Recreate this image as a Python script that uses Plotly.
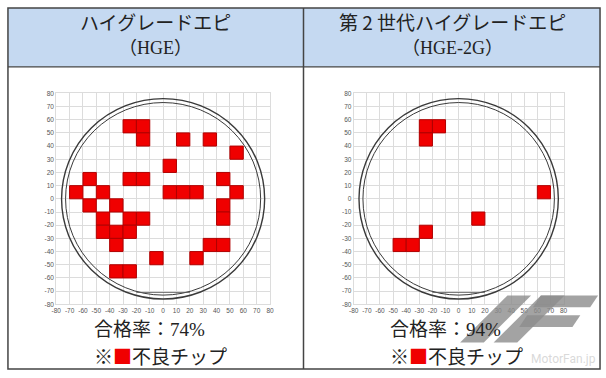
import plotly.graph_objects as go

# ---------------- data ----------------
axis_ticks = list(range(-80, 81, 10))
axis_tick_labels = [str(t) for t in axis_ticks]

titles_line1 = ["ハイグレードエピ", "第 2 世代ハイグレードエピ"]
titles_line2 = ["（HGE）", "（HGE-2G）"]
pass_rates = ["74%", "94%"]

# lower-left corners of defective 10x10 chips
hge_defect_x = [-30, -20, -20, 10, 30, 50, 0, -60, -30, -20, 40, -70, -50, 0, 10, 20, 50,
                -60, -40, 40, 40, -50, -30, -20, -50, -40, -30, -40, 30, 40, -10, 20, -40, -30]
hge_defect_y = [50, 50, 40, 40, 40, 30, 20, 10, 10, 10, 10, 0, 0, 0, 0, 0, 0,
                -10, -10, -10, -20, -20, -20, -20, -30, -30, -30, -40, -40, -40, -50, -50, -60, -60]

hge2g_defect_x = [-30, -20, -30, 60, 10, -30, -50, -40]
hge2g_defect_y = [50, 50, 40, 0, -20, -30, -40, -40]

chip_size = 10
wafer_outer_r = 76
wafer_inner_r = 73

# ---------------- figure ----------------
W, H = 606, 378
fig = go.Figure()

def px(x):
    return x / W

def py(y):
    return 1 - y / H

panels = [
    dict(xa="x", ya="y", dom=[px(52), px(269)], dx=hge_defect_x, dy=hge_defect_y),
    dict(xa="x2", ya="y2", dom=[px(354), px(567)], dx=hge2g_defect_x, dy=hge2g_defect_y),
]
ydom = [py(306), py(91)]

shapes = []
# table: header fill, borders
shapes.append(dict(type="rect", xref="paper", yref="paper", x0=px(3), x1=px(604), y0=py(64), y1=py(4),
                   fillcolor="#c5d9f1", line=dict(width=0), layer="below"))
shapes.append(dict(type="rect", xref="paper", yref="paper", x0=px(3), x1=px(604), y0=py(372), y1=py(4),
                   fillcolor="rgba(0,0,0,0)", line=dict(color="#444", width=1.5)))
shapes.append(dict(type="line", xref="paper", yref="paper", x0=px(3), x1=px(604), y0=py(64), y1=py(64),
                   line=dict(color="#444", width=1.2)))
shapes.append(dict(type="line", xref="paper", yref="paper", x0=px(303), x1=px(303), y0=py(372), y1=py(4),
                   line=dict(color="#444", width=1.5)))

for i, p in enumerate(panels):
    fig.add_trace(go.Scatter(x=[-80, 80], y=[-80, 80], mode="markers", marker=dict(opacity=0),
                             xaxis=p["xa"], yaxis=p["ya"], showlegend=False, hoverinfo="skip"))
    for x0, y0 in zip(p["dx"], p["dy"]):
        shapes.append(dict(type="rect", xref=p["xa"], yref=p["ya"], x0=x0, x1=x0 + chip_size,
                           y0=y0, y1=y0 + chip_size, fillcolor="#f00000",
                           line=dict(color="#b00000", width=1)))
    for r, w in [(wafer_outer_r, 1.4), (wafer_inner_r, 1.0)]:
        shapes.append(dict(type="circle", xref=p["xa"], yref=p["ya"], x0=-r, x1=r, y0=-r, y1=r,
                           line=dict(color="#3a3a3a", width=w)))
    shapes.append(dict(type="line", xref=p["xa"], yref=p["ya"], x0=-20, x1=20, y0=-71, y1=-71,
                       line=dict(color="#555", width=0.8)))

# watermark logo (approximate)
def poly(pts):
    d = "M " + " L ".join(f"{px(a)},{py(b)}" for a, b in pts) + " Z"
    return dict(type="path", xref="paper", yref="paper", path=d, fillcolor="rgba(140,140,140,0.8)",
                line=dict(width=0))
shapes.append(poly([(462, 345), (486, 345), (534, 297), (510, 297)]))
shapes.append(poly([(496, 345), (520, 345), (568, 297), (544, 297)]))
shapes.append(poly([(544, 297), (602, 297), (594, 309), (536, 309)]))
shapes.append(poly([(530, 317), (584, 317), (576, 329), (522, 329)]))

axis_common = dict(range=[-80, 80], tickmode="array", tickvals=axis_ticks, ticktext=axis_tick_labels,
                   showgrid=True, gridcolor="#dcdcdc", gridwidth=1, zeroline=False,
                   showline=True, linecolor="#dcdcdc", linewidth=1, mirror=True,
                   ticks="", tickfont=dict(size=6.5, color="#555", family="Liberation Sans"),
                   fixedrange=True)

fig.update_layout(
    width=W, height=H, margin=dict(l=0, r=0, t=0, b=0),
    paper_bgcolor="white", plot_bgcolor="white", showlegend=False,
    xaxis=dict(domain=panels[0]["dom"], anchor="y", **axis_common),
    yaxis=dict(domain=ydom, anchor="x", **axis_common),
    xaxis2=dict(domain=panels[1]["dom"], anchor="y2", **axis_common),
    yaxis2=dict(domain=ydom, anchor="x2", **axis_common),
    shapes=shapes,
)

FONT = "Liberation Serif, Noto Sans CJK JP"
annotations = []
centers = [153, 454]
lefts = [88, 389]
for i in range(2):
    annotations.append(dict(xref="paper", yref="paper", x=px(centers[i]), y=py(18), text=titles_line1[i],
                            showarrow=False, xanchor="center", yanchor="middle",
                            font=dict(size=19, color="#222", family="Noto Sans CJK JP")))
    annotations.append(dict(xref="paper", yref="paper", x=px(centers[i]), y=py(45), text=titles_line2[i],
                            showarrow=False, xanchor="center", yanchor="middle",
                            font=dict(size=18, color="#222", family=FONT)))
    annotations.append(dict(xref="paper", yref="paper", x=px(lefts[i]), y=py(332),
                            text="合格率：" + pass_rates[i],
                            showarrow=False, xanchor="left", yanchor="middle",
                            font=dict(size=19, color="#222", family=FONT)))
    annotations.append(dict(xref="paper", yref="paper", x=px(lefts[i]), y=py(358),
                            text="※<span style='color:#f00000'>■</span>不良チップ",
                            showarrow=False, xanchor="left", yanchor="middle",
                            font=dict(size=19, color="#222", family="Noto Sans CJK JP")))
annotations.append(dict(xref="paper", yref="paper", x=px(602), y=py(362), text="MotorFan.jp",
                        showarrow=False, xanchor="right", yanchor="middle",
                        font=dict(size=12, color="rgba(200,200,200,0.7)", family="Roboto")))
fig.update_layout(annotations=annotations)

fig.write_html("out.html", config={"displayModeBar": False, "staticPlot": True},
               post_script="document.body.style.margin='0';document.body.style.overflow='hidden';")
